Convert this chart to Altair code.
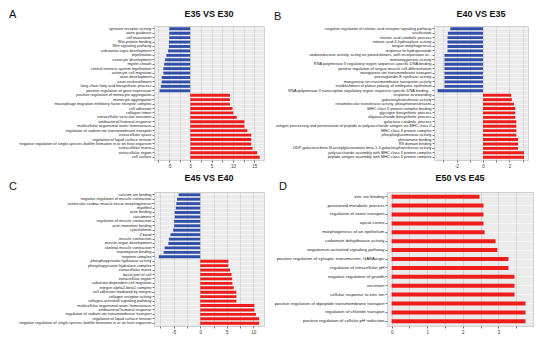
import altair as alt
import pandas as pd

# ---------------- data ----------------
labels_A = [
    "syntaxin receptor activity", "axon guidance", "cell maturation", "Wnt-protein binding",
    "Wnt signaling pathway", "substantia nigra development", "myelination", "astrocyte development",
    "myelin sheath", "central nervous system myelination", "astrocyte cell migration", "axon development",
    "axon ensheathment", "long-chain fatty acid biosynthetic process", "positive regulation of gene expression",
    "positive regulation of monocyte aggregation", "monocyte aggregation",
    "macrophage migration inhibitory factor receptor complex", "cell adhesion", "collagen trimer",
    "extracellular vesicular exosome", "antibacterial humoral response",
    "multicellular organismal water homeostasis", "regulation of sodium ion transmembrane transport",
    "extracellular space", "regulation of liquid surface tension",
    "negative regulation of single-species biofilm formation in or on host organism",
    "extracellular matrix", "extracellular region", "cell surface",
]
values_A = [-4.9, -4.9, -4.9, -5.0, -5.0, -5.2, -5.6, -5.9, -6.1, -6.3, -6.3, -6.7, -6.7, -6.9, -7.2,
            9.3, 9.3, 9.3, 9.9, 10.1, 10.9, 12.7, 12.7, 13.4, 14.3, 14.3, 14.3, 14.6, 15.7, 16.3]

labels_B = [
    "negative regulation of retinoic acid receptor signaling pathway", "ossification",
    "retinoic acid catabolic process", "retinoic acid 4-hydroxylase activity", "tongue morphogenesis",
    "response to hydroperoxide",
    "oxidoreductase activity, acting on paired donors, with incorporation or...",
    "monooxygenase activity",
    "RNA polymerase II regulatory region sequence-specific DNA binding",
    "positive regulation of tongue muscle cell differentiation",
    "manganese ion transmembrane transport", "prostaglandin-E synthase activity",
    "manganese ion transmembrane transporter activity",
    "establishment of planar polarity of embryonic epithelium",
    "RNA polymerase II transcription regulatory region sequence-specific DNA binding...",
    "response to wounding", "galactosyltransferase activity",
    "intramolecular transferase activity, phosphotransferases", "MHC class II protein complex binding",
    "glycogen biosynthetic process", "oligosaccharide biosynthetic process", "galactose catabolic process",
    "antigen processing and presentation of peptide or polysaccharide antigen via MHC class II",
    "MHC class II protein complex", "phosphoglucomutase activity", "pheromone binding", "RS domain binding",
    "UDP-galactose:beta-N-acetylglucosamine beta-1,3-galactosyltransferase activity",
    "polysaccharide assembly with MHC class II protein complex",
    "peptide antigen assembly with MHC class II protein complex",
]
values_B = [-2.47, -2.65, -2.68, -2.68, -2.68, -2.68, -2.91, -2.91, -2.91, -2.91, -2.91, -2.91, -2.91, -2.91, -3.43,
            2.13, 2.18, 2.34, 2.44, 2.44, 2.44, 2.52, 2.52, 2.52, 2.52, 2.65, 2.65, 2.65, 3.1, 3.1]

labels_C = [
    "calcium ion binding", "negative regulation of muscle contraction",
    "ventricular cardiac muscle tissue morphogenesis", "myofibril", "actin binding", "sarcomere",
    "regulation of muscle contraction", "actin monomer binding", "cytoskeleton", "Z band",
    "muscle contraction", "muscle organ development", "skeletal muscle contraction",
    "tropomyosin binding", "troponin complex",
    "phosphopyruvate hydratase activity", "phosphopyruvate hydratase complex", "extracellular matrix",
    "basal part of cell", "extracellular region", "substrate-dependent cell migration",
    "integrin alpha2-beta1 complex", "cell adhesion mediated by integrin", "collagen receptor activity",
    "collagen-activated signaling pathway", "multicellular organismal water homeostasis",
    "antibacterial humoral response", "regulation of sodium ion transmembrane transport",
    "regulation of liquid surface tension",
    "negative regulation of single-species biofilm formation in or on host organism",
]
values_C = [-4.07, -4.37, -4.5, -4.6, -4.8, -4.8, -4.9, -4.9, -5.1, -5.6, -5.9, -6.0, -6.7, -6.9, -7.8,
            5.3, 5.3, 5.6, 5.9, 6.0, 6.05, 6.3, 6.8, 6.8, 6.8, 10.2, 10.2, 10.5, 11.1, 11.1]

labels_D = [
    "zinc ion binding", "prostanoid metabolic process", "regulation of anion transport", "apical cortex",
    "morphogenesis of an epithelium", "carbonate dehydratase activity",
    "angiotensin-activated signaling pathway",
    "positive regulation of synaptic transmission, GABAergic", "regulation of intracellular pH",
    "negative regulation of growth", "secretion", "cellular response to zinc ion",
    "positive regulation of dipeptide transmembrane transport", "regulation of chloride transport",
    "positive regulation of cellular pH reduction",
]
values_D = [2.47, 2.58, 2.58, 2.58, 2.61, 2.92, 2.97, 3.28, 3.28, 3.45, 3.45, 3.45, 3.76, 3.76, 3.76]

ticks_A = [-7.5, -5, -2.5, 0, 2.5, 5, 7.5, 10, 12.5, 15]
ticks_B = [-3, -2, -1, 0, 1, 2, 3]
ticks_C = [-7.5, -5, -2.5, 0, 2.5, 5, 7.5, 10]
ticks_D = [0, 0.5, 1, 1.5, 2, 2.5, 3, 3.5]

BLUE = "#2f4fa8"
RED = "#f01c1c"
FONT = "Liberation Sans"


def panel(labels, values, title, letter, width, height, domain, ticks, major,
          letter_xy, title_y, pad_inner, label_size=3.9):
    df = pd.DataFrame({"term": labels, "value": values})
    bars = alt.Chart(df).mark_bar().encode(
        y=alt.Y("term:N", sort=labels, title=None,
                scale=alt.Scale(paddingInner=pad_inner, paddingOuter=0.3),
                axis=alt.Axis(labelFontSize=label_size, labelLimit=400, labelFont=FONT,
                              labelColor="#222222", tickSize=2, labelPadding=1,
                              domain=False, grid=True, gridColor="#ffffff",
                              gridWidth=0.5)),
        x=alt.X("value:Q", title=None,
                scale=alt.Scale(domain=domain, nice=False, zero=False),
                axis=alt.Axis(values=ticks,
                              labelExpr=f"abs(datum.value % {major}) < 0.001 ? replace(format(datum.value, 'd'), '\u2212', '-') : ''",
                              labelFontSize=4.5, labelFont=FONT, labelColor="#333333",
                              tickSize=2, labelPadding=1, domain=False,
                              grid=True, gridColor="#c4c4c4", gridWidth=0.6)),
        color=alt.condition("datum.value > 0", alt.value(RED), alt.value(BLUE)),
    )
    let = alt.Chart(pd.DataFrame({"t": [letter]})).mark_text(
        fontSize=11, font=FONT, align="left", baseline="middle", color="#111111"
    ).encode(text="t:N", x=alt.value(letter_xy[0]), y=alt.value(letter_xy[1]))
    ttl = alt.Chart(pd.DataFrame({"t": [title]})).mark_text(
        fontSize=9, font=FONT, fontWeight="bold", align="center", baseline="middle",
        color="#111111"
    ).encode(text="t:N", x=alt.value(width / 2), y=alt.value(title_y))
    return alt.layer(bars, let, ttl).properties(width=width, height=height)


pA = panel(labels_A, values_A, "E35 VS E30", "A", 110, 134, [-8.5, 17.3], ticks_A, 5,
           (-145, -11), -12, 0.35)
pB = panel(labels_B, values_B, "E40 VS E35", "B", 94, 134, [-3.7, 3.4], ticks_B, 2,
           (-160, -9), -12, 0.35)
pC = panel(labels_C, values_C, "E45 VS E40", "C", 110, 134, [-8.7, 12], ticks_C, 5,
           (-145, -5), -14, 0.35)
pD = panel(labels_D, values_D, "E50 VS E45", "D", 146, 134, [-0.13, 3.97], ticks_D, 1,
           (-108, -5), -14, 0.55, label_size=4.4)

row1 = alt.hconcat(pA, pB, spacing=8)
row2 = alt.hconcat(pC, pD, spacing=8)
chart = alt.vconcat(row1, row2, spacing=5).properties(padding=0).configure_view(
    fill="#ebebeb", stroke="#d0d0d0"
).configure_axis(tickColor="#777777")

chart.save("out.html", embed_options={"renderer": "svg", "actions": False})
